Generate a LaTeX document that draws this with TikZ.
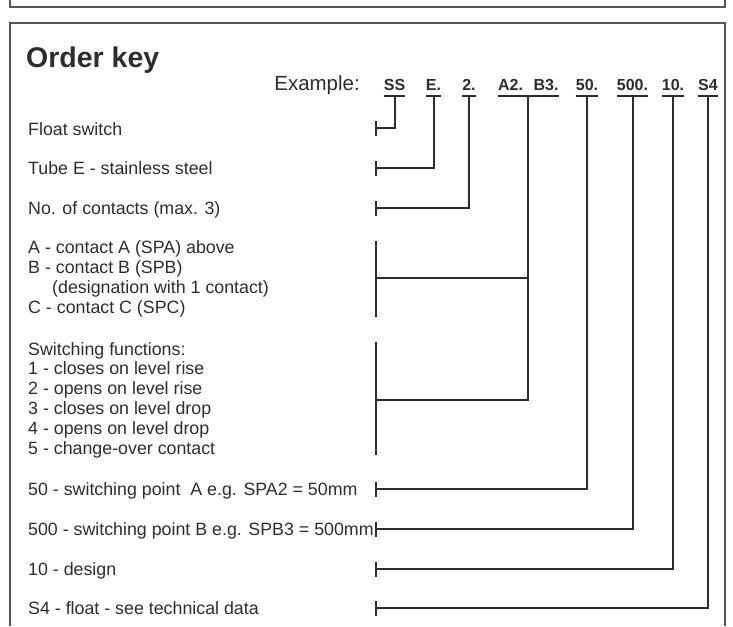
\documentclass[tikz,border=0pt]{standalone}
\usepackage{fontspec}
\setmainfont{Liberation Sans}
\usepackage{tikz}
\usetikzlibrary{calc}
\definecolor{inkgray}{RGB}{45,45,45}
\definecolor{framegray}{RGB}{85,85,85}
\tikzset{
  keytext/.style={anchor=base west,inner sep=0pt,align=left,text=inkgray,
    font=\fontsize{17.8}{19.8}\selectfont},
  grouptext/.style={keytext,anchor=west},
  titletext/.style={anchor=base west,inner sep=0pt,text=inkgray,
    font=\bfseries\fontsize{28.5}{32}\selectfont},
  exampletext/.style={anchor=base east,inner sep=0pt,text=inkgray,
    font=\fontsize{20.5}{23}\selectfont},
  codetext/.style={anchor=base,inner sep=0pt,text=inkgray,
    font=\bfseries\fontsize{16}{19}\selectfont},
  keyline/.style={draw=inkgray,line width=2pt},
  panelline/.style={draw=framegray,line width=1.2pt}
}
\begin{document}
\begin{tikzpicture}[x=1pt,y=-1pt]
  \useasboundingbox (0,0) rectangle (733,626);
  % frames
  \draw[panelline] (10,0) |- (725,7) -- (725,0);
  \draw[panelline] (10,626) |- (725,23) -- (725,626);
  \node[titletext] (title) at (26,67) {Order key};
  % example code
  \node[exampletext] (example) at (360,90) {Example:};
  \node[codetext] (ss) at (394.5,90) {SS};
  \node[codetext] (e) at (433.5,90) {E.};
  \node[codetext] (two) at (469,90) {2.};
  \node[codetext] (a2) at (510.5,90) {A2.};
  \node[codetext] (b3) at (546,90) {B3.};
  \node[codetext] (fifty) at (587,90) {50.};
  \node[codetext] (fivehundred) at (632.5,90) {500.};
  \node[codetext] (ten) at (673,90) {10.};
  \node[codetext] (sfour) at (708,90) {S4};
  % descriptions
  \node[keytext] (float) at (28,135) {Float switch};
  \node[keytext] (tube) at (28,174) {Tube E - stainless steel};
  \node[keytext] (contacts) at (28,214) {No. of contacts (max. 3)};
  \node[grouptext] (abc) at (28,279) {A - contact A (SPA) above\\B - contact B (SPB)\\\hspace*{24pt}(designation with 1 contact)\\C - contact C (SPC)};
  \node[grouptext] (functions) at (28,400) {Switching functions:\\1 - closes on level rise\\2 - opens on level rise\\3 - closes on level drop\\4 - opens on level drop\\5 - change-over contact};
  \node[keytext] (pointa) at (28,495) {50 - switching point\ \ A e.g. SPA2 = 50mm};
  \node[keytext] (pointb) at (28,535) {500 - switching point B e.g. SPB3 = 500mm};
  \node[keytext] (design) at (28,575) {10 - design};
  \node[keytext] (floatbody) at (28,614) {S4 - float - see technical data};
  % tick points
  \coordinate (t-ss) at (376,128);
  \coordinate (t-e) at (376,168);
  \coordinate (t-two) at (376,208);
  \coordinate (t-abc) at (376,278);
  \coordinate (t-fn) at (376,400);
  \coordinate (t-fifty) at (376,489);
  \coordinate (t-fivehundred) at (376,529);
  \coordinate (t-ten) at (376,569);
  \coordinate (t-sfour) at (376,608);
  % underlines and connectors
  \foreach \code in {ss,e,two,fifty,fivehundred,ten,sfour}{
    \draw[keyline] ([yshift=-6pt]\code.base west) -- ([yshift=-6pt]\code.base east);
    \draw[keyline] ([yshift=-6pt]\code.base) |- (t-\code);
    \draw[keyline] ([yshift=7.5pt]t-\code) -- ([yshift=-7.5pt]t-\code);
  }
  \draw[keyline] ([yshift=-6pt]a2.base west) -- coordinate (ab) ([yshift=-6pt]b3.base east);
  \draw[keyline] (ab) |- (t-abc);
  \draw[keyline] (ab) |- (t-fn);
  \draw[keyline] (376,241) -- (376,317);
  \draw[keyline] (376,342) -- (376,455);
\end{tikzpicture}
\end{document}
